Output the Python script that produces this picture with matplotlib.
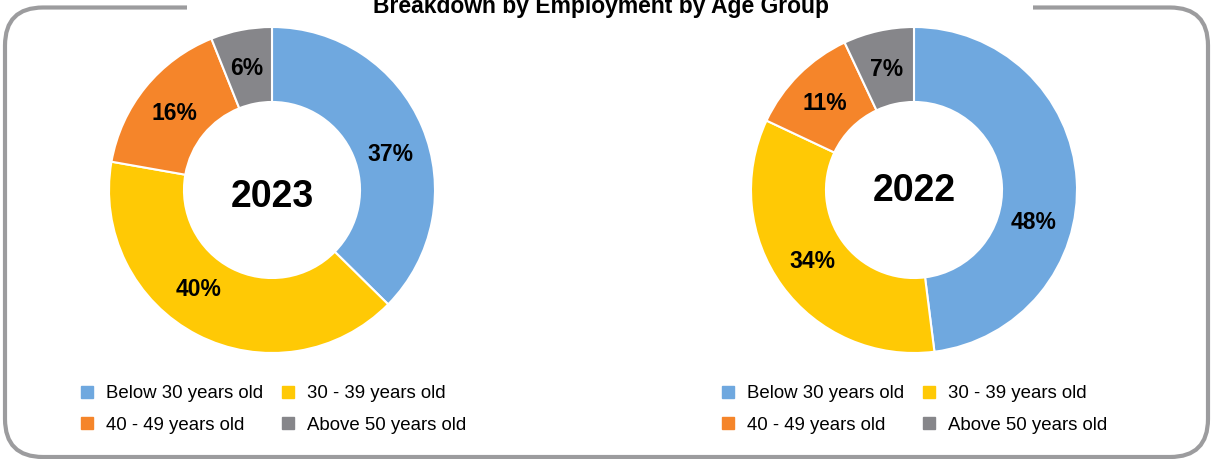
import matplotlib
matplotlib.use("Agg")
import matplotlib.pyplot as plt
from matplotlib.patches import FancyBboxPatch, Rectangle
from matplotlib.lines import Line2D
import numpy as np

plt.rcParams['font.family'] = ['Liberation Sans', 'DejaVu Sans']

title = "Breakdown by Employment by Age Group"
categories = ["Below 30 years old", "30 - 39 years old", "40 - 49 years old", "Above 50 years old"]
colors = ["#6FA8DF", "#FFC905", "#F5852A", "#86868A"]

years = ["2023", "2022"]
share_2023 = [37, 40, 16, 6]
share_2022 = [48, 34, 11, 7]

# label nudges (degrees, clockwise) to mimic the original's label placement
nudge_2023 = [6, 9, -1, -1]
nudge_2022 = [19, 1, -1, 0]

W, H = 1211, 459
fig = plt.figure(figsize=(W / 100, H / 100), dpi=100)

# frame around the whole thing (pixel coords)
bg = fig.add_axes([0, 0, 1, 1])
bg.set_xlim(0, W)
bg.set_ylim(0, H)
bg.axis('off')
frame = FancyBboxPatch((5, 2), 1203, 449.5, boxstyle="round,pad=0,rounding_size=38",
                       fill=False, edgecolor="#9C9C9E", linewidth=3)
bg.add_patch(frame)
bg.add_patch(Rectangle((187, 440), 1033 - 187, 19, facecolor="white", edgecolor="none"))
# title sits half outside the top edge, as in the original
bg.text(601, H - 13, title, ha='center', va='baseline', fontsize=16.5, fontweight='bold')


def donut(left_px, values, nudges, year, year_dy, legend_x):
    ax = fig.add_axes([left_px / W, 106 / H, 326 / W, 326 / H])
    wedges, _ = ax.pie(values, colors=colors, startangle=90, counterclock=False, radius=1,
                       wedgeprops=dict(width=0.46, edgecolor='white', linewidth=1.5))
    ax.set_xlim(-1, 1)
    ax.set_ylim(-1, 1)
    ax.set_aspect('equal')
    for w, v, n in zip(wedges, values, nudges):
        ang = np.deg2rad((w.theta1 + w.theta2) / 2 - n)
        r = 0.76
        ax.text(r * np.cos(ang), r * np.sin(ang), f"{v}%", ha='center', va='center',
                fontsize=16.5, fontweight='bold')
    ax.text(0, year_dy, year, ha='center', va='center', fontsize=27, fontweight='bold')

    order = [0, 2, 1, 3]  # row-wise like the original
    handles = [Line2D([], [], marker='s', linestyle='none', markersize=8.5,
                      markerfacecolor=colors[i], markeredgecolor=colors[i]) for i in order]
    labels = [categories[i] for i in order]
    fig.legend(handles, labels, loc='upper left', ncol=2, frameon=False,
               bbox_to_anchor=(legend_x / W, 1 - 385 / H), fontsize=13.4,
               handlelength=0.8, handletextpad=0.6, columnspacing=0.93,
               labelspacing=0.8, borderaxespad=0, borderpad=0)


donut(109, share_2023, nudge_2023, years[0], -0.045, 80)
donut(751, share_2022, nudge_2022, years[1], -0.005, 721)

fig.savefig("out.png", dpi=100)
